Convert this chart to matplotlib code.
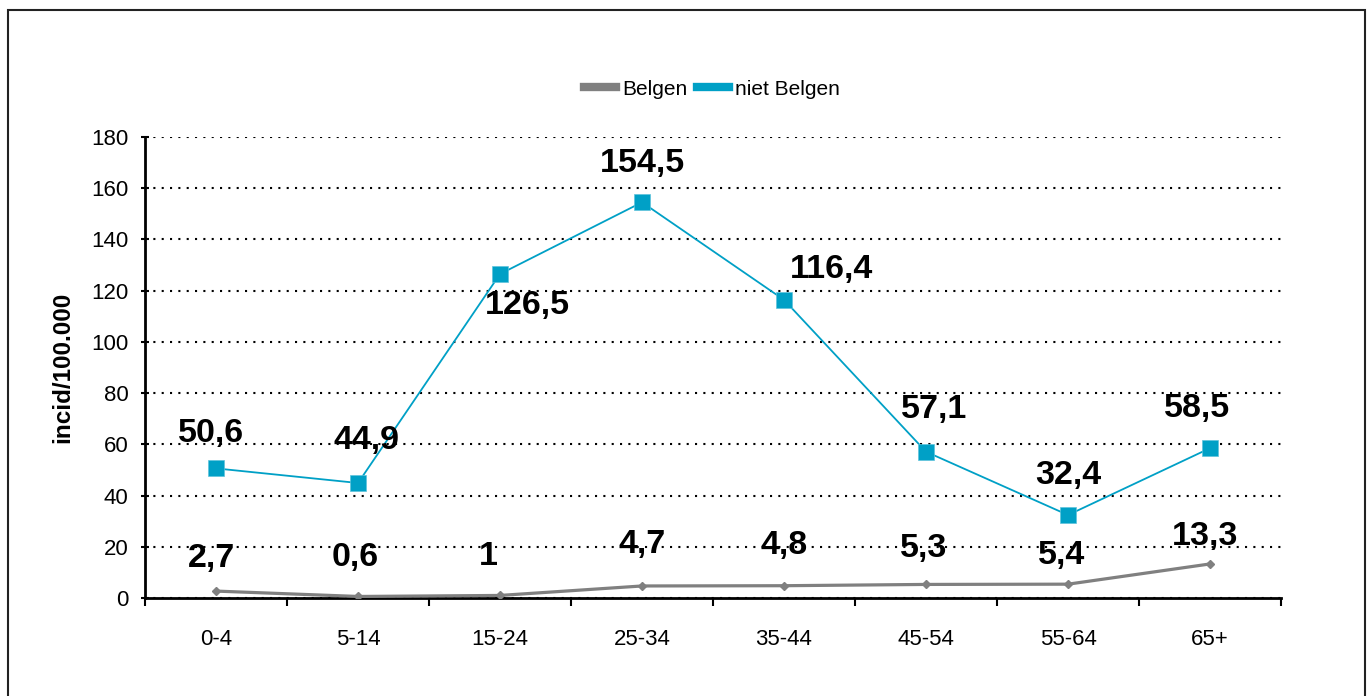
import matplotlib
matplotlib.use("Agg")
import matplotlib.pyplot as plt
from matplotlib.patches import Rectangle

plt.rcParams['font.family'] = ['Liberation Sans', 'DejaVu Sans']

categories = ['0-4', '5-14', '15-24', '25-34', '35-44', '45-54', '55-64', '65+']
belgen = [2.7, 0.6, 1.0, 4.7, 4.8, 5.3, 5.4, 13.3]
niet_belgen = [50.6, 44.9, 126.5, 154.5, 116.4, 57.1, 32.4, 58.5]
belgen_labels = ['2,7', '0,6', '1', '4,7', '4,8', '5,3', '5,4', '13,3']
niet_labels = ['50,6', '44,9', '126,5', '154,5', '116,4', '57,1', '32,4', '58,5']

# label offsets in pixels (dx, dy up)
niet_off = [(-5, 35), (8, 43), (27, -31), (0, 39), (47, 30), (8, 42), (0, 40), (-13, 40)]
belg_off = [(-5, 33), (-3, 39), (-12, 39), (0, 41), (0, 40), (-2, 36), (-6, 29), (-5, 27)]

GRAY = '#808080'
BLUE = '#00a0c6'

fig = plt.figure(figsize=(13.72, 6.96), dpi=100)
ax = fig.add_axes([0.1057, 0.1408, 0.828, 0.6624])

x = list(range(len(categories)))
ax.plot(x, belgen, color=GRAY, lw=2.3, marker='D', ms=4.5, label='Belgen', zorder=3)
ax.plot(x, niet_belgen, color=BLUE, lw=1.3, marker='s', ms=11.5, mec='#5fc3dc', mew=0.5,
        label='niet Belgen', zorder=4)

px = 72 / 100
for i in x:
    dx, dy = niet_off[i]
    ax.annotate(niet_labels[i], (i, niet_belgen[i]), xytext=(dx * px, dy * px),
                textcoords='offset points', ha='center', va='center',
                fontsize=24.5, fontweight='bold', zorder=5)
    dx, dy = belg_off[i]
    ax.annotate(belgen_labels[i], (i, belgen[i]), xytext=(dx * px, dy * px),
                textcoords='offset points', ha='center', va='center',
                fontsize=24.5, fontweight='bold', zorder=5)

ax.set_xlim(-0.5, len(categories) - 0.5)
ax.set_ylim(0, 180)
ax.set_yticks(range(0, 181, 20))
ax.set_xticks(x)
ax.set_xticklabels(categories)
ax.set_xticks([i - 0.5 for i in range(len(categories) + 1)], minor=True)
ax.tick_params(axis='x', which='major', length=0, pad=22, labelsize=16)
ax.tick_params(axis='x', which='minor', length=6, width=1.5, direction='out')
ax.tick_params(axis='y', length=6, width=1.5, direction='inout', labelsize=16, pad=9)
ax.yaxis.grid(True, color='black', linestyle=(0, (1, 3)), lw=1.5)
ax.set_axisbelow(True)
for s in ['top', 'right']:
    ax.spines[s].set_visible(False)
for s in ['left', 'bottom']:
    ax.spines[s].set_linewidth(2)
ax.set_ylabel('incid/100.000', fontsize=17.5, fontweight='bold', labelpad=12)

handles = [plt.Line2D([], [], color=GRAY, lw=6), plt.Line2D([], [], color=BLUE, lw=6)]
fig.legend(handles, ['Belgen', 'niet Belgen'], loc='center', bbox_to_anchor=(0.519, 0.872),
           ncol=2, frameon=False, fontsize=15, handlelength=1.5, handletextpad=0.3,
           columnspacing=0.5)

fig.patches.append(Rectangle((0.0055, -0.1), 0.9897, 1.0855, transform=fig.transFigure,
                             fill=False, edgecolor='#222222', lw=1.5))

fig.savefig('out.png', dpi=100)
